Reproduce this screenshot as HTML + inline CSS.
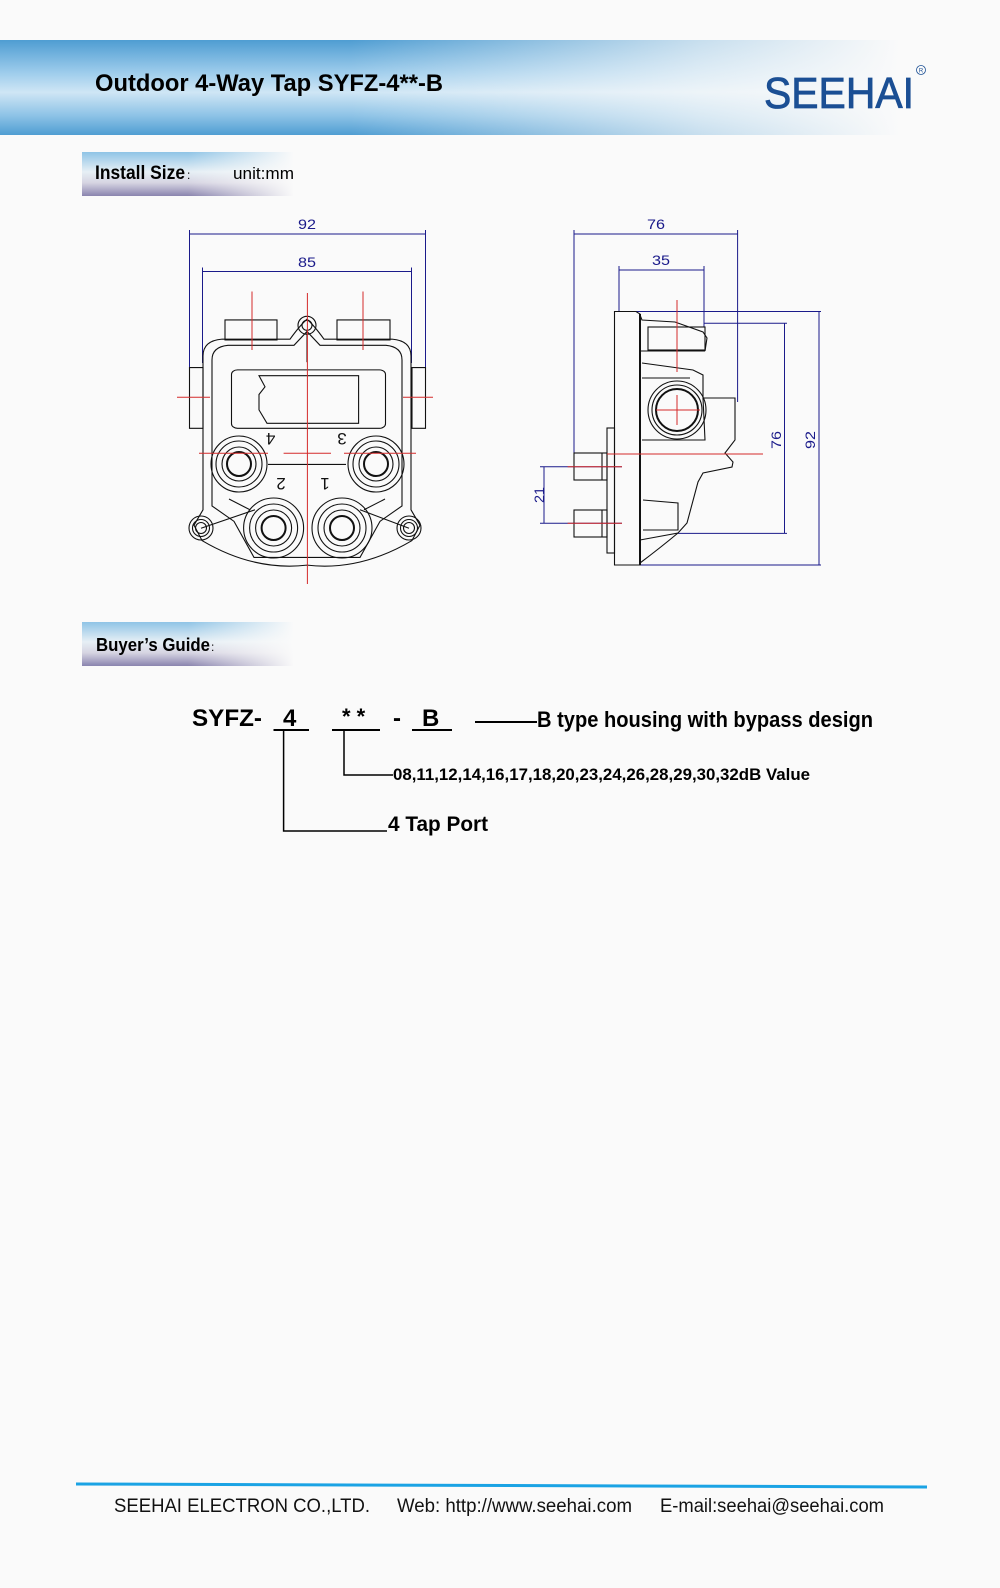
<!DOCTYPE html>
<html><head><meta charset="utf-8"><style>
html,body{margin:0;padding:0;}
body{width:1000px;height:1588px;background:#fafafa;position:relative;overflow:hidden;font-family:"Liberation Sans",Arial,sans-serif;}
.hdr{position:absolute;left:0;top:40px;width:1000px;height:95px;
background:linear-gradient(90deg,rgba(250,250,250,0) 0%,rgba(250,250,250,0) 35%,rgba(250,250,250,0.7) 70%,#fafafa 90%),
linear-gradient(180deg,#4f9dd2 0%,#9fcdec 35%,#cfe6f5 55%,#8cc2e6 80%,#4f9dd2 100%);}
.sec{position:absolute;left:82px;width:212px;height:44px;
background:linear-gradient(90deg,rgba(250,250,250,0) 0%,rgba(250,250,250,0) 50%,#fafafa 100%),
linear-gradient(180deg,#8fc4e6 0%,#e6eff5 45%,#d6d4e2 70%,#8a84ae 100%);}
svg{position:absolute;left:0;top:0;}
</style></head><body>
<div class="hdr"></div>
<div class="sec" style="top:152px"></div>
<div class="sec" style="top:622px"></div>
<svg width="1000" height="1588" viewBox="0 0 1000 1588" font-family="Liberation Sans, Arial, sans-serif">
<text x="95" y="91" font-size="24" font-weight="bold" fill="#000" textLength="348" lengthAdjust="spacingAndGlyphs">Outdoor 4-Way Tap SYFZ-4**-B</text>
<text x="764" y="108" font-size="44" fill="#1b4f94" stroke="#1b4f94" stroke-width="0.8" textLength="150" lengthAdjust="spacingAndGlyphs">SEEHAI</text>
<circle cx="921" cy="70" r="4.5" fill="none" stroke="#1b4f94" stroke-width="0.8"/>
<text x="921" y="72.5" font-size="6" fill="#1b4f94" text-anchor="middle">R</text>
<text x="95" y="179" font-size="19" font-weight="bold" textLength="90" lengthAdjust="spacingAndGlyphs">Install Size</text>
<text x="187" y="179" font-size="12">:</text>
<text x="233" y="179" font-size="17" textLength="61" lengthAdjust="spacingAndGlyphs">unit:mm</text>
<text x="96" y="651" font-size="18" font-weight="bold" textLength="114" lengthAdjust="spacingAndGlyphs">Buyer’s Guide</text>
<text x="211" y="651" font-size="12">:</text>

<!-- LEFT DRAWING -->
<g fill="none" stroke="#1a1a8a" stroke-width="1">
<line x1="189.5" y1="230" x2="189.5" y2="367"/><line x1="425.5" y1="230" x2="425.5" y2="367"/>
<line x1="189.5" y1="234" x2="425.5" y2="234"/>
<line x1="202.5" y1="267.5" x2="202.5" y2="363"/><line x1="411.5" y1="267.5" x2="411.5" y2="363"/>
<line x1="202.5" y1="271.5" x2="411.5" y2="271.5"/>
</g>
<g fill="#1a1a8a" font-size="14"><text x="307" y="229" text-anchor="middle" textLength="18" lengthAdjust="spacingAndGlyphs">92</text><text x="307" y="267" text-anchor="middle" textLength="18" lengthAdjust="spacingAndGlyphs">85</text></g>
<g fill="none" stroke="#111" stroke-width="1.1" transform="matrix(1 0 0 0.7687 0 48.57)">
<g vector-effect="non-scaling-stroke">
<rect x="225" y="353" width="52" height="26" vector-effect="non-scaling-stroke"/><rect x="337" y="353" width="53" height="26" vector-effect="non-scaling-stroke"/>
<rect x="189.5" y="415" width="13.5" height="79" vector-effect="non-scaling-stroke"/><rect x="412" y="415" width="13.5" height="79" vector-effect="non-scaling-stroke"/>
<path vector-effect="non-scaling-stroke" d="M203 400 Q203 380 222 378 L290 378 Q300 360 307 352 Q314 360 324 378 L392 378 Q411 380 411 400 L411 600 L420 620 L412 640 Q360 680 307 672 Q254 680 202 640 L194 620 L203 600 Z"/>
<path vector-effect="non-scaling-stroke" d="M212 405 Q212 388 228 386 L294 386 L307 368 L320 386 L386 386 Q402 388 402 405 L402 595 L380 615 L360 662 L254 662 L234 615 L212 595 Z"/>
<rect vector-effect="non-scaling-stroke" x="231.5" y="418" width="154" height="76" rx="6"/>
<path vector-effect="non-scaling-stroke" d="M259 425.5 L358.6 425.5 L358.6 487.5 L267 487.5 L259 470 L259 450 L265 440 Z"/>
<line vector-effect="non-scaling-stroke" x1="307" y1="369" x2="307" y2="408"/>
<line vector-effect="non-scaling-stroke" x1="268" y1="541" x2="346" y2="541"/>
<line vector-effect="non-scaling-stroke" x1="229" y1="586" x2="250" y2="600"/><line vector-effect="non-scaling-stroke" x1="385" y1="586" x2="364" y2="600"/>
<line vector-effect="non-scaling-stroke" x1="201" y1="624" x2="255" y2="600"/><line vector-effect="non-scaling-stroke" x1="409" y1="624" x2="360" y2="600"/>
</g>
</g>
<g fill="none" stroke="#111" stroke-width="1.1">
<g transform="translate(307,325.3)"><circle r="9"/><circle r="5"/></g>
<g transform="translate(239,464)"><circle r="28"/><circle r="23"/><circle r="17"/><circle r="12" stroke-width="2"/></g>
<g transform="translate(376,464)"><circle r="28"/><circle r="23"/><circle r="17"/><circle r="12" stroke-width="2"/></g>
<g transform="translate(273.6,528)"><circle r="30"/><circle r="24"/><circle r="18"/><circle r="12" stroke-width="2"/></g>
<g transform="translate(342,528)"><circle r="30"/><circle r="24"/><circle r="18"/><circle r="12" stroke-width="2"/></g>
<g transform="translate(201,528)"><circle r="12"/><circle r="8.5"/><circle r="5.5"/></g>
<g transform="translate(409,528)"><circle r="12"/><circle r="8.5"/><circle r="5.5"/></g>
</g>
<g font-size="17" fill="#111" text-anchor="middle">
<text transform="translate(270.6,433) rotate(180)">4</text>
<text transform="translate(342,433) rotate(180)">3</text>
<text transform="translate(281,478) rotate(180)">2</text>
<text transform="translate(325,478) rotate(180)">1</text>
</g>
<g stroke="#d42a2a" stroke-width="1">
<line x1="307.4" y1="293" x2="307.4" y2="584"/>
<line x1="199" y1="453.2" x2="268" y2="453.2"/><line x1="283.6" y1="453.2" x2="331" y2="453.2"/><line x1="344" y1="453.2" x2="416" y2="453.2"/>
<line x1="177" y1="397.3" x2="210" y2="397.3"/><line x1="403" y1="397.3" x2="433" y2="397.3"/>
<line x1="252" y1="291.5" x2="252" y2="350"/><line x1="363" y1="291.5" x2="363" y2="350"/>
</g>

<!-- RIGHT DRAWING -->
<g fill="none" stroke="#1a1a8a" stroke-width="1">
<line x1="574" y1="230" x2="574" y2="453"/><line x1="737.6" y1="230" x2="737.6" y2="402"/>
<line x1="574" y1="234" x2="737.6" y2="234"/>
<line x1="619" y1="266" x2="619" y2="311.5"/><line x1="704" y1="266" x2="704" y2="327"/>
<line x1="619" y1="270" x2="704" y2="270"/>
<line x1="619" y1="311.5" x2="821" y2="311.5"/><line x1="614.5" y1="565" x2="821" y2="565"/>
<line x1="819" y1="311.5" x2="819" y2="565"/>
<line x1="704" y1="323.3" x2="787" y2="323.3"/><line x1="678" y1="533.4" x2="787" y2="533.4"/>
<line x1="784.5" y1="323.3" x2="784.5" y2="533.4"/>
<line x1="540" y1="466.7" x2="622" y2="466.7"/><line x1="540" y1="523.3" x2="622" y2="523.3"/>
<line x1="544" y1="466.7" x2="544" y2="523.3"/>
</g>
<g fill="#1a1a8a" font-size="14" text-anchor="middle">
<text x="656" y="229" textLength="18" lengthAdjust="spacingAndGlyphs">76</text>
<text x="661" y="265" textLength="18" lengthAdjust="spacingAndGlyphs">35</text>
<text transform="translate(781,440) rotate(-90)" textLength="18" lengthAdjust="spacingAndGlyphs">76</text>
<text transform="translate(815,440) rotate(-90)" textLength="18" lengthAdjust="spacingAndGlyphs">92</text>
<text transform="translate(544,495) rotate(-90)" textLength="16" lengthAdjust="spacingAndGlyphs">21</text>
</g>
<g fill="none" stroke="#111" stroke-width="1.1">
<path d="M614.5 311.5 L636 311.5 L640 314 L640 565 L614.5 565 Z"/>
<line x1="640" y1="314" x2="640" y2="565" stroke-width="2"/>
<rect x="607" y="428" width="7.5" height="125"/>
<rect x="574" y="453" width="33" height="27"/><line x1="602" y1="453" x2="602" y2="480"/>
<rect x="574" y="510" width="33" height="27"/><line x1="602" y1="510" x2="602" y2="537"/>
<path d="M640 315 L642 320 L675 322 L703 332 L707 338 L705 351 M640 351 L705 351"/>
<rect x="648" y="327" width="57" height="23"/>
<path d="M642 363 L693 370 L703 375 L703 398 L735 398 L735 440 L725 453 L733 462 L732 467 L703 473 L698 482 L687 523 L678 533 L640 540"/>
<path d="M642 378 L690 378 M642 440 L705 440 L703 398"/>
<path d="M643 500 L678 503 L678 530 L643 530"/>
<path d="M640 563 Q660 548 678 533"/>
<circle cx="677" cy="410" r="29"/><circle cx="677" cy="410" r="25"/><circle cx="677" cy="410" r="21" stroke-width="2"/>
</g>
<g stroke="#d42a2a" stroke-width="1">
<line x1="677" y1="300" x2="677" y2="372"/>
<line x1="677" y1="395" x2="677" y2="425"/>
<line x1="656" y1="410" x2="700" y2="410"/>
<line x1="607" y1="454" x2="763" y2="454"/>
<line x1="567.6" y1="466.7" x2="622" y2="466.7"/><line x1="567.6" y1="523.3" x2="622" y2="523.3"/>
</g>

<!-- BUYER'S GUIDE -->
<g font-weight="bold" fill="#000">
<text x="192" y="726" font-size="24" textLength="70" lengthAdjust="spacingAndGlyphs">SYFZ-</text>
<text x="283" y="726" font-size="24">4</text>
<text x="342" y="724" font-size="22">* *</text>
<text x="393" y="726" font-size="24">-</text>
<text x="422" y="726" font-size="24">B</text>
<text x="537" y="727" font-size="22" textLength="336" lengthAdjust="spacingAndGlyphs">B type housing with bypass design</text>
<text x="393" y="780" font-size="17" textLength="417" lengthAdjust="spacingAndGlyphs">08,11,12,14,16,17,18,20,23,24,26,28,29,30,32dB Value</text>
<text x="388" y="831" font-size="21" textLength="100" lengthAdjust="spacingAndGlyphs">4 Tap Port</text>
</g>
<g stroke="#000" stroke-width="2" fill="none">
<line x1="273.5" y1="730" x2="309" y2="730"/>
<line x1="332" y1="730" x2="380" y2="730"/>
<line x1="412" y1="730" x2="452" y2="730"/>
<line x1="475" y1="722" x2="537" y2="722"/>
<path d="M344 730 L344 775 L393 775" stroke-width="1.5"/>
<path d="M283.6 730 L283.6 831 L387 831" stroke-width="1.5"/>
</g>

<!-- FOOTER -->
<line x1="76" y1="1484" x2="927" y2="1487" stroke="#1aa3e4" stroke-width="3"/>
<g font-size="19" fill="#111">
<text x="114" y="1512" textLength="256" lengthAdjust="spacingAndGlyphs">SEEHAI ELECTRON CO.,LTD.</text>
<text x="397" y="1512" textLength="235" lengthAdjust="spacingAndGlyphs">Web: http://www.seehai.com</text>
<text x="660" y="1512" textLength="224" lengthAdjust="spacingAndGlyphs">E-mail:seehai@seehai.com</text>
</g>
</svg>
</body></html>
